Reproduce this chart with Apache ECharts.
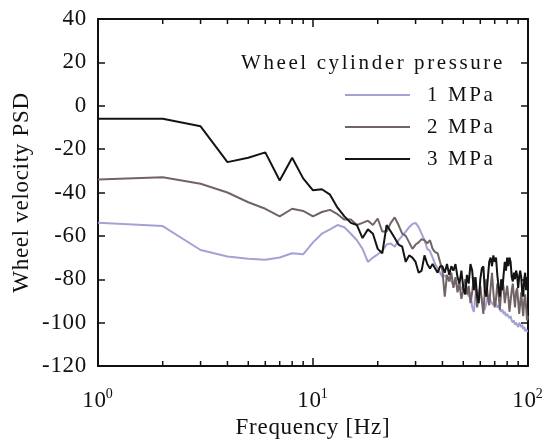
<!DOCTYPE html>
<html>
<head>
<meta charset="utf-8">
<script src="https://cdn.jsdelivr.net/npm/echarts@6/dist/echarts.min.js"></script>
<style>
html,body{margin:0;padding:0;background:#fff;}
#chart{width:553px;height:446px;}
</style>
</head>
<body>
<div id="chart"></div>
<script>
// Frequencies (Hz), 1 Hz resolution
const freqs = [1,2,3,4,5,6,7,8,9,10,11,12,13,14,15,16,17,18,19,20,
  21,22,23,24,25,26,27,28,29,30,31,32,33,34,35,36,37,38,39,40,
  41,42,43,44,45,46,47,48,49,50,51,52,53,54,55,56,57,58,59,60,
  61,62,63,64,65,66,67,68,69,70,71,72,73,74,75,76,77,78,79,80,
  81,82,83,84,85,86,87,88,89,90,91,92,93,94,95,96,97,98,99,100];

const psd1MPa = [-54,-55.5,-66.5,-69.5,-70.5,-71,-70,-68,-68.5,-63,
  -59,-57,-55,-56,-59,-62,-66,-72,-70,-68.5,
  -67,-64,-63.5,-65,-62,-60,-58,-56,-54.5,-54,
  -56,-59,-62,-66,-67,-70,-73,-75,-77,-79,
  -78,-80,-79,-81,-83,-80,-84,-82,-85,-83,
  -86,-84,-88,-86,-93,-95,-87,-85,-88,-86,
  -89,-93,-94,-91,-88,-87,-90,-91,-92,-90,
  -91,-93,-92,-94,-95,-94,-96,-95,-97,-96,
  -97,-98,-97,-99,-100,-99,-101,-100,-101,-102,
  -100,-101,-102,-101,-103,-102,-104,-103,-104,-104];

const psd2MPa = [-34,-33,-36,-40,-44.5,-47.5,-51,-47.5,-48.5,-51,
  -49,-48,-50,-52.5,-52.5,-55,-54,-53,-55,-52,
  -58,-58,-54,-51.5,-55,-59,-60,-63,-66,-64,
  -63,-61.5,-62,-63.5,-62,-66,-67.5,-68,-72,-76,
  -88,-78,-81,-77,-84,-79,-86,-82,-89,-85,
  -80,-87,-83,-91,-86,-79,-84,-93,-88,-83,
  -90,-96,-85,-80,-88,-92,-84,-77,-86,-93,
  -89,-82,-87,-94,-86,-80,-84,-91,-87,-83,
  -88,-95,-90,-85,-82,-88,-93,-86,-84,-90,
  -96,-91,-86,-92,-97,-90,-87,-93,-99,-97];

const psd3MPa = [-6,-6,-9.5,-26,-24,-21.5,-34.5,-24,-33.5,-39,
  -38.5,-41,-47,-51,-54,-55,-61,-57,-59,-66,
  -68,-55,-58,-61,-64,-65,-72,-69,-70,-72,
  -77,-76,-69,-73,-75,-73,-75,-77,-74,-74,
  -77,-73,-78,-74,-76,-73,-79,-82,-76,-84,
  -87,-78,-82,-73,-76,-85,-79,-88,-91,-80,
  -75,-74,-86,-88,-80,-72,-70,-74,-69,-72,
  -70,-78,-84,-88,-80,-85,-78,-72,-76,-70,
  -74,-70,-72,-79,-81,-77,-80,-76,-78,-84,
  -79,-76,-79,-86,-88,-80,-77,-85,-79,-80];

const seriesNames = ['1 MPa','2 MPa','3 MPa'];
const seriesColors = ['#a2a2d6','#726464','#141414'];
const minorTickFreqs = [2,3,4,5,6,7,8,9,20,30,40,50,60,70,80,90];
const legendTitle = 'Wheel cylinder pressure';

const FONT = '"Liberation Serif","Times New Roman",serif';

// Typeset-like letter spacing of the original figure text
(function(){
  const proto = CanvasRenderingContext2D.prototype;
  const orig = proto.fillText;
  proto.fillText = function(t, x, y, m){
    if ('letterSpacing' in this) {
      this.letterSpacing = (this.font.indexOf('21px') >= 0) ? '2.6px' : '0.7px';
    }
    return m === undefined ? orig.call(this, t, x, y) : orig.call(this, t, x, y, m);
  };
})();

function pairs(vals){ return freqs.map((f,i)=>[f,vals[i]]); }

const chart = echarts.init(document.getElementById('chart'), null, {renderer:'canvas'});

const lineSeries = [psd1MPa, psd2MPa, psd3MPa].map((vals,i)=>({
  name: seriesNames[i],
  type: 'line',
  data: pairs(vals),
  symbol: 'none',
  showSymbol: false,
  lineStyle: {color: seriesColors[i], width: 2},
  itemStyle: {color: seriesColors[i]},
  z: 3 + i,
  animation: false
}));

chart.setOption({
  animation: false,
  backgroundColor: '#fff',
  grid: {left: 98, right: 25, top: 19, bottom: 80, containLabel: false},
  title: {
    text: legendTitle,
    left: 241, top: 53, padding: 0,
    textStyle: {fontFamily: FONT, fontSize: 21, fontWeight: 'normal', color: '#111'}
  },
  legend: {
    data: seriesNames,
    orient: 'vertical',
    left: 345, top: 84, padding: 0,
    itemWidth: 65, itemHeight: 2,
    itemGap: 10,
    icon: 'rect',
    textStyle: {fontFamily: FONT, fontSize: 21, color: '#111', lineHeight: 22, padding: [0,0,0,12]}
  },
  xAxis: [{
    type: 'log', logBase: 10, min: 1, max: 100,
    position: 'bottom',
    name: 'Frequency [Hz]', nameLocation: 'middle', nameGap: 49,
    nameTextStyle: {fontFamily: FONT, fontSize: 23, color: '#111'},
    axisLine: {show: true, onZero: false, lineStyle: {color: '#111', width: 2}},
    axisTick: {show: true, inside: true, length: 8, lineStyle: {color: '#111', width: 1.5}},
    axisLabel: {
      margin: 21,
      formatter: function(v){ return '{b|10}{s|' + Math.round(Math.log10(v)) + '}'; },
      rich: {
        b: {fontFamily: FONT, fontSize: 23, color: '#111'},
        s: {fontFamily: FONT, fontSize: 14, color: '#111', padding: [0,0,13,0]}
      }
    },
    splitLine: {show: false}
  },{
    type: 'log', logBase: 10, min: 1, max: 100,
    position: 'top',
    axisLine: {show: true, onZero: false, lineStyle: {color: '#111', width: 2}},
    axisTick: {show: true, inside: true, length: 8, lineStyle: {color: '#111', width: 1.5}},
    axisLabel: {show: false},
    splitLine: {show: false}
  }],
  yAxis: [{
    type: 'value', min: -120, max: 40, interval: 20,
    position: 'left',
    name: 'Wheel velocity PSD', nameLocation: 'middle', nameGap: 60,
    nameTextStyle: {fontFamily: FONT, fontSize: 23, color: '#111'},
    axisLine: {show: true, onZero: false, lineStyle: {color: '#111', width: 2}},
    axisTick: {show: true, inside: true, length: 7, lineStyle: {color: '#111', width: 1.5}},
    axisLabel: {margin: 11, fontFamily: FONT, fontSize: 23, color: '#111'},
    splitLine: {show: false}
  },{
    type: 'value', min: -120, max: 40, interval: 20,
    position: 'right',
    axisLine: {show: true, onZero: false, lineStyle: {color: '#111', width: 2}},
    axisTick: {show: true, inside: true, length: 7, lineStyle: {color: '#111', width: 1.5}},
    axisLabel: {show: false},
    splitLine: {show: false}
  }],
  series: lineSeries.concat([{
    type: 'custom',
    name: 'minorTicks',
    silent: true,
    clip: false,
    data: minorTickFreqs.map(f=>[f, -120]),
    renderItem: function(params, api){
      const f = api.value(0);
      const b = api.coord([f, -120]);
      const t = api.coord([f, 40]);
      return {type: 'group', children: [
        {type: 'line', shape: {x1: b[0], y1: b[1], x2: b[0], y2: b[1]-5}, style: {stroke: '#111', lineWidth: 1.5}},
        {type: 'line', shape: {x1: t[0], y1: t[1], x2: t[0], y2: t[1]+5}, style: {stroke: '#111', lineWidth: 1.5}}
      ]};
    },
    z: 10
  }])
});
</script>
</body>
</html>
